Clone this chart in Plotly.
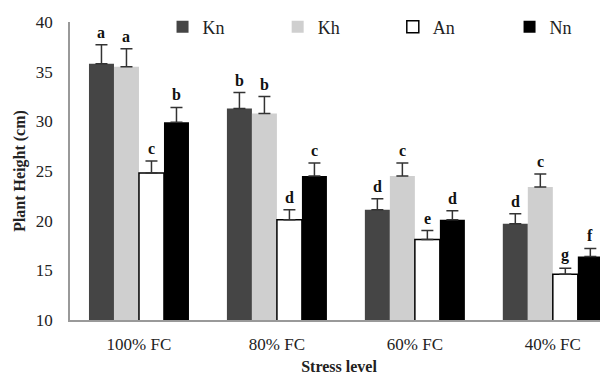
import plotly.graph_objects as go

categories = ["100% FC", "80% FC", "60% FC", "40% FC"]
series_names = ["Kn", "Kh", "An", "Nn"]
kn = [35.8, 31.3, 21.1, 19.7]
kh = [35.5, 30.8, 24.5, 23.4]
an = [24.8, 20.1, 18.1, 14.6]
nn = [29.9, 24.5, 20.1, 16.4]
kn_err = [1.9, 1.6, 1.1, 1.0]
kh_err = [1.8, 1.7, 1.3, 1.3]
an_err = [1.2, 1.0, 0.9, 0.6]
nn_err = [1.5, 1.3, 0.9, 0.8]
kn_let = ["a", "b", "d", "d"]
kh_let = ["a", "b", "c", "c"]
an_let = ["c", "d", "e", "g"]
nn_let = ["b", "c", "d", "f"]

values = [kn, kh, an, nn]
errors = [kn_err, kh_err, an_err, nn_err]
letters = [kn_let, kh_let, an_let, nn_let]
fills = ["#454545", "#cfcfcf", "#ffffff", "#000000"]
lines = ["#454545", "#cfcfcf", "#000000", "#000000"]
legend_x = [0.172, 0.386, 0.600, 0.817]

# page is drawn with the browser's 8px body margin
W, H = 600, 370
ML, MR, MT, MB = 62, 0, 14, 58
XRANGE = [-0.5, 3.4]
BARGAP = 0.275
FONT = "'Liberation Serif', 'Times New Roman', Times, serif"

fig = go.Figure()
legend_ids = ["legend", "legend2", "legend3", "legend4"]
for name, v, e, fc, lc, lid in zip(series_names, values, errors, fills, lines, legend_ids):
    fig.add_trace(go.Bar(
        name=name, x=categories, y=v, legend=lid, showlegend=True,
        marker=dict(color=fc, line=dict(color=lc, width=1.5 if fc == "#ffffff" else 0)),
        error_y=dict(type="data", symmetric=False, array=e, arrayminus=[0] * len(e),
                     color="#333333", thickness=1.5, width=6),
    ))

plot_w = W - ML - MR
px_per_cat = plot_w / (XRANGE[1] - XRANGE[0])
bar_w = px_per_cat * (1 - BARGAP) / len(series_names)
for i, (v, e, lt) in enumerate(zip(values, errors, letters)):
    shift = (i - (len(series_names) - 1) / 2) * bar_w
    for c, val, err, t in zip(categories, v, e, lt):
        fig.add_annotation(x=c, y=val + err, text="<b>%s</b>" % t, showarrow=False,
                           xshift=shift, yshift=2, yanchor="bottom",
                           font=dict(family=FONT, size=16, color="#111111"))

legend_style = dict(orientation="h", y=0.983, xanchor="left", yanchor="middle",
                    itemwidth=30, font=dict(family=FONT, size=18, color="#222222"),
                    bgcolor="rgba(0,0,0,0)", borderwidth=0)

fig.update_layout(
    width=W, height=H,
    margin=dict(l=ML, r=MR, t=MT, b=MB, autoexpand=False),
    paper_bgcolor="white", plot_bgcolor="white",
    barmode="group", bargap=BARGAP, bargroupgap=0,
    showlegend=True,
    font=dict(family=FONT, color="#222222"),
    legend=dict(x=legend_x[0], **legend_style),
    legend2=dict(x=legend_x[1], **legend_style),
    legend3=dict(x=legend_x[2], **legend_style),
    legend4=dict(x=legend_x[3], **legend_style),
    xaxis=dict(range=XRANGE, showline=True, linecolor="#999999", linewidth=1.5,
               ticks="", ticklabelstandoff=8,
               tickfont=dict(family=FONT, size=17, color="#222222"),
               title=dict(text="<b>Stress level</b>", font=dict(family=FONT, size=16, color="#222222"),
                          standoff=8)),
    yaxis=dict(range=[10, 40], dtick=5, showgrid=False, zeroline=False, showline=True,
               linecolor="#999999", linewidth=1.5, ticks="", ticklabelstandoff=12,
               tickfont=dict(family=FONT, size=17, color="#222222"),
               title=dict(text="<b>Plant Height (cm)</b>", font=dict(family=FONT, size=16, color="#222222"),
                          standoff=6)),
)

fig.write_html("out.html")
